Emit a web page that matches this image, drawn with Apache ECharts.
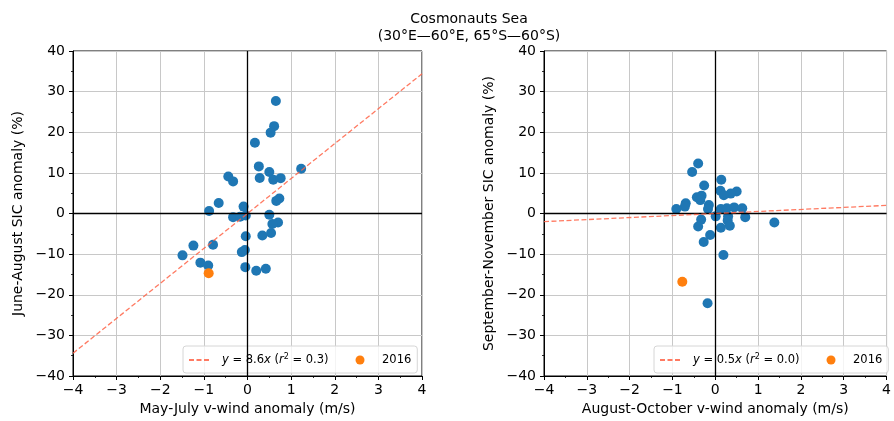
<!DOCTYPE html>
<html>
<head>
<meta charset="utf-8">
<script src="https://cdn.jsdelivr.net/npm/echarts@6/dist/echarts.min.js"></script>
<style>
  html, body { margin: 0; padding: 0; background: #fff; }
  #chart { width: 894px; height: 421px; }
</style>
</head>
<body>
<div id="chart"></div>
<script>
// May-July meridional wind anomaly vs June-August sea-ice concentration anomaly
const mjjWind = [0.65, 0.61, 0.53, 0.17, 0.26, 1.23, 0.50, -0.44, -0.33, 0.28, 0.59, 0.76,
  0.73, 0.66, -0.66, -0.88, -0.09, -0.33, -0.17, -0.04, 0.50, 0.70, 0.57, 0.54, 0.34,
  -0.04, -1.24, -0.79, -1.49, -0.06, -0.13, -1.08, -0.90, -0.05, 0.20, 0.42];
const jjaSic = [27.7, 21.5, 19.9, 17.4, 11.6, 11.0, 10.2, 9.1, 7.9, 8.75, 8.3, 8.7,
  3.7, 3.1, 2.6, 0.6, 1.7, -0.9, -0.8, -0.5, -0.3, -2.2, -2.6, -4.8, -5.4,
  -5.6, -7.9, -7.7, -10.3, -9.0, -9.5, -12.1, -12.8, -13.2, -14.1, -13.6];

// August-October meridional wind anomaly vs September-November SIC anomaly
const asoWind = [-0.40, -0.54, 0.14, -0.26, 0.12, 0.50, 0.36, 0.20, -0.32, -0.43, -0.35,
  -0.69, -0.71, -0.91, -0.15, -0.17, 0.13, 0.27, 0.44, 0.63, 0.01, 0.30, 0.70, -0.33,
  0.29, 1.38, 0.34, -0.40, 0.13, -0.12, -0.27, 0.19, -0.18];
const sonSic = [12.3, 10.2, 8.3, 6.9, 5.6, 5.4, 4.9, 4.5, 4.4, 4.0, 3.3,
  2.5, 1.7, 1.1, 2.1, 1.1, 1.1, 1.3, 1.5, 1.3, -0.7, -0.7, -0.9, -1.5,
  -1.7, -2.2, -3.0, -3.2, -3.5, -5.3, -7.0, -10.2, -22.1];

// The 2016 season in each panel: [wind, sic]
const year2016 = [[-0.89, -14.7], [-0.77, -16.8]];

// Least-squares fits through the origin
const fitSlope = [8.6, 0.5];
const fitR2 = [0.3, 0.0];

const xTitles = ['May-July v-wind anomaly (m/s)', 'August-October v-wind anomaly (m/s)'];
const yTitles = ['June-August SIC anomaly (%)', 'September-November SIC anomaly (%)'];
const xTicks = [-4, -3, -2, -1, 0, 1, 2, 3, 4];
const yTicks = [-40, -30, -20, -10, 0, 10, 20, 30, 40];

const FONT = 'DejaVu Sans';
const minus = v => String(v).replace('-', '\u2212');
const fitName = i => 'y = ' + fitSlope[i].toFixed(1) + 'x (r2 = ' + fitR2[i].toFixed(1) + ')';

const grids = [
  { left: 73, top: 51, width: 349, height: 326 },
  { left: 544, top: 51, width: 348, height: 326 }
];

function xAxis(i) {
  return {
    gridIndex: i, type: 'value',
    min: xTicks[0], max: xTicks[xTicks.length - 1], interval: 1,
    name: xTitles[i], nameLocation: 'middle', nameGap: 26,
    nameTextStyle: { fontFamily: FONT, fontSize: 14, color: '#000' },
    axisLine: { show: true, onZero: false, lineStyle: { color: '#000', width: 1 } },
    axisTick: { show: true, length: 4, lineStyle: { color: '#000', width: 1 } },
    minorTick: { show: true, splitNumber: 2, length: 2, lineStyle: { color: '#000', width: 0.8 } },
    axisLabel: { fontFamily: FONT, fontSize: 14, color: '#000', margin: 7, formatter: minus },
    splitLine: { show: true, lineStyle: { color: '#c8c8c8', width: 1 } }
  };
}
function yAxis(i) {
  return {
    gridIndex: i, type: 'value',
    min: yTicks[0], max: yTicks[yTicks.length - 1], interval: 10,
    name: yTitles[i], nameLocation: 'middle', nameGap: 48, nameRotate: 90,
    nameTextStyle: { fontFamily: FONT, fontSize: 14, color: '#000' },
    axisLine: { show: true, onZero: false, lineStyle: { color: '#000', width: 1 } },
    axisTick: { show: true, length: 4, lineStyle: { color: '#000', width: 1 } },
    minorTick: { show: true, splitNumber: 2, length: 2, lineStyle: { color: '#000', width: 0.8 } },
    axisLabel: { fontFamily: FONT, fontSize: 14, color: '#000', margin: 8, formatter: minus },
    splitLine: { show: true, lineStyle: { color: '#c8c8c8', width: 1 } }
  };
}

const pairs = [[mjjWind, jjaSic], [asoWind, sonSic]];
const series = [];
pairs.forEach(([xs, ys], i) => {
  series.push({
    name: 'years' + i, type: 'scatter', xAxisIndex: i, yAxisIndex: i,
    symbolSize: 10, itemStyle: { color: '#1f77b4', opacity: 1 },
    data: xs.map((x, k) => [x, ys[k]]), z: 3,
    markLine: {
      silent: true, symbol: 'none', animation: false,
      label: { show: false },
      lineStyle: { color: '#000', width: 1.3, type: 'solid' },
      emphasis: { disabled: true },
      data: [{ xAxis: 0 }, { yAxis: 0 }]
    }
  });
  series.push({
    name: '2016', type: 'scatter', xAxisIndex: i, yAxisIndex: i,
    symbolSize: 10, itemStyle: { color: '#ff7f0e', opacity: 1 },
    data: [year2016[i]], z: 4
  });
  series.push({
    name: fitName(i), type: 'line', xAxisIndex: i, yAxisIndex: i,
    symbol: 'none', z: 5,
    lineStyle: { color: '#ff6347', opacity: 0.85, width: 1.3, type: [5, 2.5] },
    itemStyle: { color: '#ff6347' },
    data: [[xTicks[0], xTicks[0] * fitSlope[i]], [xTicks[xTicks.length - 1], xTicks[xTicks.length - 1] * fitSlope[i]]]
  });
});

const richLegend = {
  g: { width: 6 },
  i: { fontFamily: FONT, fontSize: 11.5, fontStyle: 'italic', color: '#000' },
  n: { fontFamily: FONT, fontSize: 11.5, color: '#000' },
  s: { fontFamily: FONT, fontSize: 8, color: '#000', verticalAlign: 'bottom', padding: [0, 0, 6, 0] }
};
function legendFormatter(name) {
  if (name === '2016') return '{g|}{n|2016}';
  const m = name.match(/^y = ([\d.]+)x \(r2 = ([\d.]+)\)$/);
  return '{g|}{i|y}{n| = ' + m[1] + '}{i|x}{n| (}{i|r}{s|2}{n| = ' + m[2] + ')}';
}
function legend(i) {
  return {
    left: grids[i].left + 110, top: 346,
    orient: 'horizontal', itemGap: 27, itemWidth: 22, itemHeight: 9,
    padding: [7, 6, 7, 5],
    borderColor: '#d6d6d6', borderWidth: 1, borderRadius: 3,
    backgroundColor: 'rgba(255,255,255,0.8)',
    selectedMode: false,
    data: [
      { name: fitName(i), itemStyle: { opacity: 0 } },
      { name: '2016' }
    ],
    formatter: legendFormatter,
    textStyle: { fontFamily: FONT, fontSize: 11.5, color: '#000', rich: richLegend }
  };
}

const option = {
  animation: false,
  backgroundColor: '#fff',
  grid: grids.map(g => Object.assign({ show: true, borderColor: '#000', borderWidth: 1, backgroundColor: 'transparent' }, g)),
  xAxis: [xAxis(0), xAxis(1)],
  yAxis: [yAxis(0), yAxis(1)],
  legend: [legend(0), legend(1)],
  graphic: [{
    type: 'text', x: 469, y: 11,
    style: {
      text: 'Cosmonauts Sea\n(30°E—60°E, 65°S—60°S)',
      font: '14px "DejaVu Sans"', fill: '#000', align: 'center', lineHeight: 17
    }
  }],
  series: series
};

const chart = echarts.init(document.getElementById('chart'), null, { renderer: 'canvas' });
chart.setOption(option);
</script>
</body>
</html>
